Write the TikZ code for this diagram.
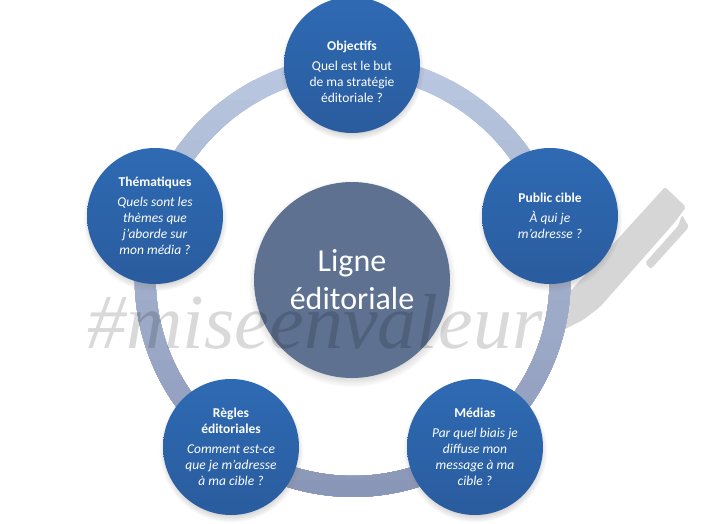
\documentclass[tikz,border=0pt]{standalone}
\usepackage{fontspec}
\setmainfont{Carlito}
\newfontfamily\markfont{Liberation Serif}
\usetikzlibrary{shadows,backgrounds}
\definecolor{bluetop}{HTML}{2E6AB3}
\definecolor{bluemid}{HTML}{3375C6}
\definecolor{bluebot}{HTML}{2A5C9E}
\definecolor{ringtop}{HTML}{BAC7E0}
\definecolor{ringbot}{HTML}{8794B5}
\definecolor{hubcol}{HTML}{5E7190}
\definecolor{pencol}{HTML}{D6D6D6}
\tikzset{
  softshadow/.style={circular drop shadow={shadow xshift=0pt, shadow yshift=-3pt, shadow scale=1.06, opacity=0.45}},
  topic/.style={circle, minimum size=136pt, inner sep=0pt, align=center, text=white,
    font=\fontsize{13.5}{16}\selectfont, top color=bluetop, middle color=bluemid, bottom color=bluebot,
    softshadow},
  hub/.style={circle, minimum size=196pt, inner sep=0pt, align=center, text=white,
    font=\fontsize{32}{38}\selectfont, fill=hubcol, softshadow},
  ringarc/.style={line width=21pt, looseness=0.94},
}
\begin{document}
\begin{tikzpicture}[x=1pt, y=-1pt]
\useasboundingbox (0,0) rectangle (705,523);
% Centre and topics
\node[hub] (ligne) at (352,280) {Ligne\\éditoriale};
\node[topic] (objectifs) at (352,65) {\mbox{}\\[8pt]\textbf{Objectifs}\\[4pt]Quel est le but\\de ma stratégie\\éditoriale ?};
\node[topic] (public) at (550,216) {\textbf{Public cible}\\[4pt]\textit{À qui je}\\\textit{m'adresse ?}};
\node[topic] (medias) at (475,447) {\textbf{Médias}\\[4pt]\textit{Par quel biais je}\\\textit{diffuse mon}\\\textit{message à ma}\\\textit{cible ?}};
\node[topic] (regles) at (231,447) {\textbf{Règles}\\\textbf{éditoriales}\\[4pt]\textit{Comment est-ce}\\\textit{que je m'adresse}\\\textit{à ma cible ?}};
\node[topic] (themes) at (155,216) {\textbf{Thématiques}\\[4pt]\textit{Quels sont les}\\\textit{thèmes que}\\\textit{j'aborde sur}\\\textit{mon média ?}};

\begin{scope}[on background layer]
% Pen
\fill[pencol, rounded corners=2pt] (665,187) -- (686,207) -- (675,222) -- (600,307) -- (583,320)
    -- (557,333) -- (565,297) -- cycle;
\fill[pencol, rounded corners=2pt] (682,215) -- (689,227) -- (651,269) -- (645,263) -- (678,226) -- cycle;

% Ring, lighter at the top
\foreach \y [evaluate=\y as \t using (\y-60)/4.4] in {60,80,...,500} {
  \begin{scope}
  \clip (0,\y) rectangle (705,523);
  \foreach \a/\b in {objectifs/public, public/medias, medias/regles, regles/themes, themes/objectifs}
      \draw[ringarc, ringbot!\t!ringtop] (\a.center) to[bend left=36] (\b.center);
  \end{scope}
}
\end{scope}

% Watermark
\node[anchor=base, text=black, text opacity=0.15, font=\markfont\itshape\fontsize{78}{78}\selectfont] (mark) at (315,348) {\#miseenvaleur};
\end{tikzpicture}
\end{document}
